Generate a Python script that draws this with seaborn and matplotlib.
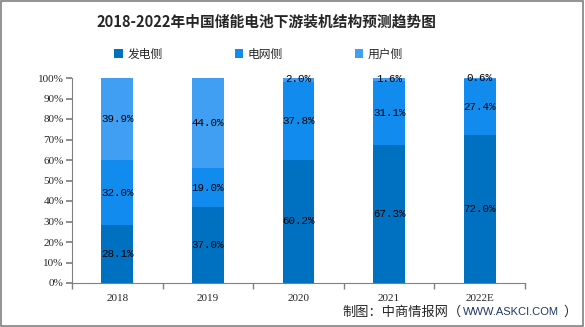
import matplotlib
matplotlib.use("Agg")
import matplotlib.pyplot as plt
import seaborn as sns
import pandas as pd
import numpy as np

years = ["2018", "2019", "2020", "2021", "2022E"]
series_names = ["发电侧", "电网侧", "用户侧"]
gen_side = [28.1, 37.0, 60.2, 67.3, 72.0]
grid_side = [32.0, 19.0, 37.8, 31.1, 27.4]
user_side = [39.9, 44.0, 2.0, 1.6, 0.6]
colors = ["#0070C0", "#128BEE", "#409FF2"]

sns.set_theme(style="white")
plt.rcParams["font.family"] = ["Noto Sans CJK SC", "DejaVu Sans"]

fig = plt.figure(figsize=(5.85, 3.27), dpi=100)
ax = fig.add_axes([72 / 585, 1 - 283 / 327, (525 - 72) / 585, (283 - 78) / 327])

values = [gen_side, grid_side, user_side]
bottom = np.zeros(len(years))
for name, vals, col in zip(series_names, values, colors):
    df = pd.DataFrame({"year": years, "val": vals})
    sns.barplot(data=df, x="year", y="val", ax=ax, color=col, width=0.353,
                bottom=bottom, label=name, saturation=1, edgecolor="none",
                linewidth=0)
    for i, v in enumerate(vals):
        y = bottom[i] + v / 2
        if v < 5:
            y = bottom[i] + v / 2 + 0.3
        ax.text(i, y, f"{v:.1f}%", ha="center", va="center", fontsize=7.8,
                family=["Liberation Mono", "DejaVu Sans Mono"], color="black")
    bottom = bottom + np.array(vals)

ax.set_ylim(0, 100)
ax.set_xlim(-0.5, 4.5)
ax.set_yticks(np.arange(0, 101, 10))
ax.set_yticklabels([f"{t}%" for t in range(0, 101, 10)],
                   family=["Liberation Serif", "DejaVu Serif"], fontsize=8)
ax.set_xticks(range(len(years)))
ax.set_xticklabels(years, family=["Liberation Serif", "DejaVu Serif"], fontsize=8)
ax.set_xlabel("")
ax.set_ylabel("")
for s in ["top", "right"]:
    ax.spines[s].set_visible(False)
for s in ["left", "bottom"]:
    ax.spines[s].set_color("#808080")
    ax.spines[s].set_linewidth(0.8)
ax.tick_params(axis="y", length=4, color="#808080", pad=2, left=True, direction="out")
ax.tick_params(axis="x", length=0, pad=8)
ax.set_xticks(np.arange(-0.5, 4.6, 1), minor=True)
ax.tick_params(axis="x", which="minor", length=4, color="#808080", bottom=True, direction="out")

leg = ax.legend(loc="upper left", bbox_to_anchor=(0.07, 1.2), ncol=3, frameon=False,
                handlelength=0.7, handleheight=0.7, columnspacing=6.1,
                handletextpad=0.4, fontsize=8.5)

fig.text(266 / 585, 1 - 22 / 327, "2018-2022年中国储能电池下游装机结构预测趋势图",
         ha="center", va="center", fontsize=10.6, fontweight="bold")

fig.text(342 / 585, 1 - 312 / 327, "制图：中商情报网（", ha="left", va="center", fontsize=9.5)
fig.text(463 / 585, 1 - 312 / 327, "WWW.ASKCI.COM", ha="left", va="center", fontsize=8,
         color="#1F3864", family=["Liberation Sans", "DejaVu Sans"])
fig.text(563 / 585, 1 - 312 / 327, "）", ha="left", va="center", fontsize=9.5)

border = plt.Rectangle((0.002, 0.003), 0.995, 0.994, transform=fig.transFigure,
                       fill=False, edgecolor="#808080", linewidth=1.2)
fig.patches.append(border)

fig.savefig("out.png", dpi=100)
